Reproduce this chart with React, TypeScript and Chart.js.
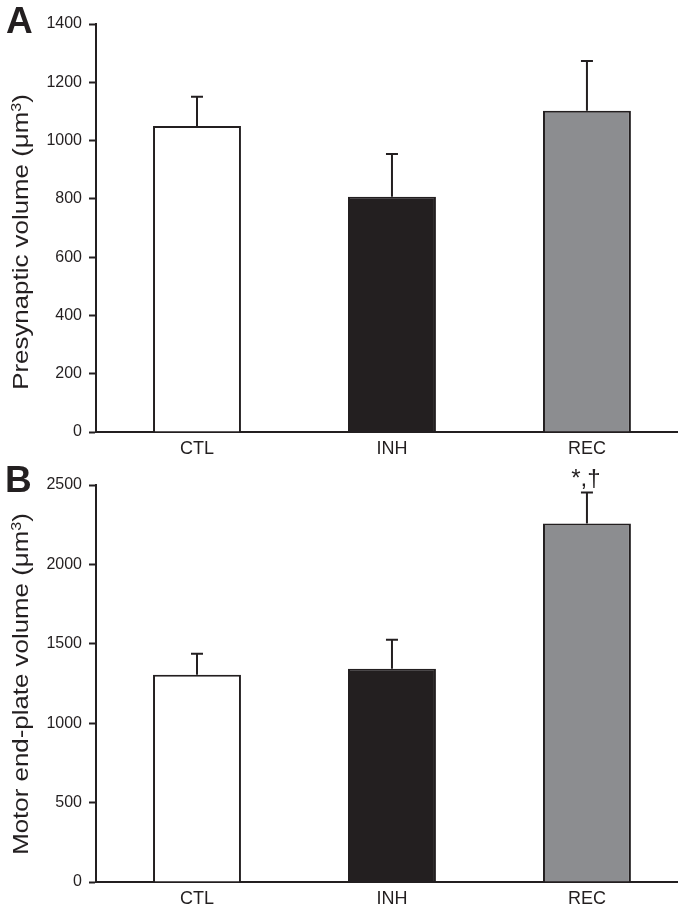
import React, { useEffect, useRef } from "react";
import { Chart, registerables } from "chart.js";

Chart.register(...registerables);

// ---------- data ----------
const categories = ["CTL", "INH", "REC"];

const presynapticMeans = [1050, 807, 1102];
const presynapticErrors = [100, 147, 171];
const presynapticMarks = ["", "", ""];
const presynapticMax = 1400;
const presynapticStep = 200;

const endplateMeans = [1305, 1343, 2258];
const endplateErrors = [132, 182, 195];
const endplateMarks = ["", "", "*,†"];
const endplateMax = 2500;
const endplateStep = 500;

// ---------- style ----------
const INK = "#231f20";
const FONT = "'Liberation Sans', Arial, Helvetica, sans-serif";
const barColors = ["#ffffff", "#231f20", "#8c8d90"];

type PanelProps = {
  means: number[];
  errors: number[];
  marks: string[];
  yMax: number;
  yStep: number;
  top: number;
  height: number;
  padTop: number;
  xAxisH: number;
};

function BarPanel(props: PanelProps) {
  const ref = useRef<HTMLCanvasElement | null>(null);
  const { means, errors, marks, yMax, yStep, top, height, padTop, xAxisH } = props;

  useEffect(() => {
    if (!ref.current) return;
    const errorPlugin = {
      id: "errorBarsAndMarks",
      afterDatasetsDraw(chart: any) {
        const { ctx, scales } = chart;
        const xs = scales.x;
        const ys = scales.y;
        ctx.save();
        ctx.strokeStyle = INK;
        ctx.fillStyle = INK;
        ctx.lineWidth = 2;
        ctx.lineCap = "butt";
        means.forEach((m, i) => {
          const xc = xs.getPixelForValue(i);
          const yBar = ys.getPixelForValue(m);
          const yTop = ys.getPixelForValue(m + errors[i]);
          ctx.beginPath();
          ctx.moveTo(xc, yBar);
          ctx.lineTo(xc, yTop);
          ctx.moveTo(xc - 6, yTop);
          ctx.lineTo(xc + 6, yTop);
          ctx.stroke();
          if (marks[i]) {
            ctx.font = `24px ${FONT}`;
            ctx.textAlign = "center";
            ctx.textBaseline = "alphabetic";
            ctx.fillText(marks[i], xc - 1, yTop - 6);
          }
        });
        ctx.restore();
      },
    };

    const chart = new Chart(ref.current, {
      type: "bar",
      data: {
        datasets: [
          {
            data: means.map((v, i) => ({ x: i, y: v })) as any,
            backgroundColor: barColors,
            borderColor: INK,
            borderWidth: 2,
            barPercentage: 0.451,
            categoryPercentage: 1,
          },
        ],
      },
      options: {
        responsive: false,
        animation: false,
        devicePixelRatio: 1,
        layout: { padding: { top: padTop, left: 0, right: 0, bottom: 0 } },
        plugins: {
          legend: { display: false },
          tooltip: { enabled: false },
        },
        scales: {
          x: {
            type: "linear",
            min: -0.518,
            max: 2.467,
            offset: false,
            grid: { display: true, drawOnChartArea: false, drawTicks: false },
            border: { display: true, color: INK, width: 2 },
            afterBuildTicks: (s: any) => {
              s.ticks = categories.map((_, i) => ({ value: i }));
            },
            afterFit: (s: any) => {
              s.height = xAxisH;
            },
            ticks: {
              autoSkip: false,
              maxRotation: 0,
              padding: 6,
              color: INK,
              font: { family: FONT, size: 18 },
              callback: (v: any) => categories[v as number] ?? "",
            },
          },
          y: {
            min: 0,
            max: yMax,
            afterFit: (s: any) => {
              s.width = 96;
            },
            grid: {
              drawOnChartArea: false,
              drawTicks: true,
              tickLength: 7,
              tickWidth: 2,
              tickColor: INK,
            },
            border: { display: true, color: INK, width: 2 },
            ticks: {
              stepSize: yStep,
              padding: 7,
              color: INK,
              font: { family: FONT, size: 16 },
              callback: (v: any) => String(v),
            },
          },
        },
      } as any,
      plugins: [errorPlugin],
    });
    return () => chart.destroy();
  }, []);

  return (
    <canvas
      ref={ref}
      width={678}
      height={height}
      style={{ position: "absolute", left: 0, top, width: 678, height, display: "block" }}
    />
  );
}

function YTitle({ cx, cy, children }: { cx: number; cy: number; children: React.ReactNode }) {
  const w = 360;
  const h = 26;
  return (
    <div
      style={{
        position: "absolute",
        left: cx - w / 2,
        top: cy - h / 2,
        width: w,
        height: h,
        lineHeight: `${h}px`,
        fontSize: 22.5,
        fontFamily: FONT,
        color: INK,
        textAlign: "center",
        whiteSpace: "nowrap",
        transform: "rotate(-90deg) scaleX(1.15)",
        transformOrigin: "50% 50%",
      }}
    >
      {children}
    </div>
  );
}

function PanelLetter({ left, top, text }: { left: number; top: number; text: string }) {
  return (
    <div
      style={{
        position: "absolute",
        left,
        top,
        fontSize: 37,
        lineHeight: "37px",
        fontWeight: "bold",
        fontFamily: FONT,
        color: INK,
      }}
    >
      {text}
    </div>
  );
}

const sup = { fontSize: "0.62em", position: "relative" as const, top: "-0.5em" };

export default function App() {
  return (
    <div
      style={{
        position: "absolute",
        left: 0,
        top: 0,
        width: 678,
        height: 912,
        overflow: "hidden",
        background: "#ffffff",
      }}
    >
      <BarPanel
        means={presynapticMeans}
        errors={presynapticErrors}
        marks={presynapticMarks}
        yMax={presynapticMax}
        yStep={presynapticStep}
        top={0}
        height={456}
        padTop={24}
        xAxisH={24}
      />
      <BarPanel
        means={endplateMeans}
        errors={endplateErrors}
        marks={endplateMarks}
        yMax={endplateMax}
        yStep={endplateStep}
        top={456}
        height={456}
        padTop={29}
        xAxisH={30}
      />
      <YTitle cx={20.5} cy={242}>
        Presynaptic volume (μm<span style={sup}>3</span>)
      </YTitle>
      <YTitle cx={20.5} cy={684}>
        Motor end-plate volume (μm<span style={sup}>3</span>)
      </YTitle>
      <PanelLetter left={6} top={2} text="A" />
      <PanelLetter left={5} top={461} text="B" />
    </div>
  );
}
